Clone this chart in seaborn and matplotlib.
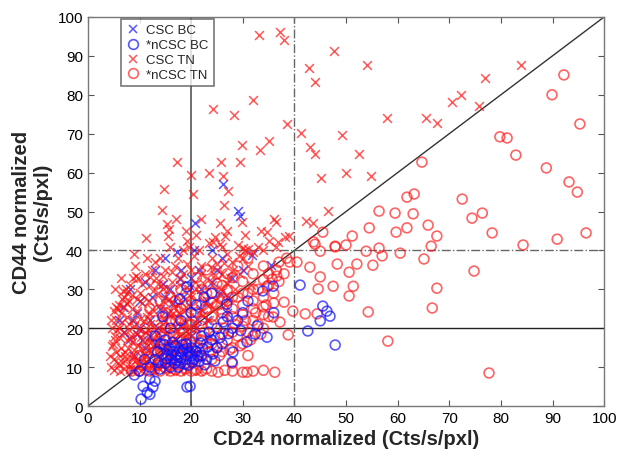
import matplotlib
matplotlib.use("Agg")
import matplotlib.pyplot as plt
import seaborn as sns
from matplotlib.lines import Line2D

# CSC TN (red x)
csc_tn_x = [
    33.1, 37.2, 38.0, 47.7, 42.8, 44.0, 54.1, 83.9, 76.9, 72.3,
    70.5, 75.8, 32.0, 24.2, 28.3, 57.9, 65.5, 67.6, 38.6, 41.3,
    49.2, 35.1, 29.8, 33.3, 43.0, 44.0, 52.5, 17.2, 25.8, 29.5,
    20.0, 23.4, 26.2, 45.2, 50.0, 54.8, 14.7, 20.3, 27.1, 26.4,
    14.3, 46.5, 15.3, 15.7, 36.0, 42.2, 43.6, 29.8, 11.2, 15.5,
    19.2, 24.6, 26.6, 38.2, 36.4, 34.7, 36.8, 39.0, 24.2, 25.6,
    30.0, 31.0,
    4.5, 5.0, 5.5, 4.8, 5.2, 6.0, 5.5, 6.5, 6.0, 7.0,
    6.2, 6.8, 7.2, 6.5, 7.5, 7.0, 8.0, 7.5, 8.5, 8.0,
    8.2, 8.8, 9.0, 8.5, 9.5, 9.0, 10.0, 9.5, 10.5, 10.0,
    10.2, 10.8, 11.2, 10.5, 11.5, 11.0, 12.0, 11.5, 12.5, 12.0,
    5.8, 6.3, 7.8, 8.3, 9.7, 10.5, 11.8, 12.2, 4.6, 5.8,
    7.3, 8.8, 9.2, 6.5, 11.0, 11.5, 9.0, 12.5, 13.0, 5.2,
    12.8, 13.2, 13.8, 13.0, 14.0, 13.5, 14.5, 14.0, 15.0, 14.5,
    15.2, 15.8, 16.2, 15.5, 16.5, 16.0, 17.0, 16.5, 17.5, 17.0,
    17.8, 18.2, 18.8, 18.0, 19.0, 18.5, 19.5, 19.0, 20.0, 19.5,
    13.5, 14.2, 15.5, 16.2, 17.8, 13.2, 15.0, 16.8, 18.5, 14.0,
    20.5, 21.5, 22.5, 21.0, 23.0, 22.0, 24.0, 21.5, 20.5, 19.5,
    23.5, 24.5, 25.5, 24.0, 26.0, 25.0, 27.0, 26.0, 28.0, 27.5,
    28.5, 29.5, 30.0, 31.0, 29.0, 32.0, 33.0, 34.0, 31.5, 26.5,
    17.5, 18.5, 16.0, 20.0, 22.5, 19.0, 21.0, 23.5, 17.0, 22.0,
    27.0, 25.5, 30.5, 33.5, 35.0, 36.5, 6.8, 5.4, 9.7, 21.5,
    4.3, 4.7, 5.3, 5.7, 4.4, 5.1, 6.6, 6.9, 7.6, 8.6,
    6.1, 7.4, 8.1, 9.3, 10.9, 12.3, 13.7, 14.8, 16.4, 17.2,
    7.1, 8.7, 9.8, 10.2, 11.6, 12.8, 13.9, 14.9, 16.8, 17.9,
    6.2, 7.9, 8.9, 9.9, 10.8, 11.9, 12.9, 13.8, 14.8, 15.9,
    6.7, 7.6, 8.2, 9.6, 10.9, 11.8, 12.7, 13.6, 14.6, 15.7,
    16.6, 17.7, 18.7, 19.8, 18.2, 19.3, 17.3, 16.3, 15.3, 14.3,
    5.0, 6.9, 8.9, 11.9, 15.9, 19.2, 20.8, 21.8, 20.6, 21.2,
    9.4, 10.4, 12.0, 14.6, 16.3, 17.9, 19.2, 20.8, 22.0, 23.9,
    22.2, 23.2, 24.8, 25.8, 27.0, 28.2, 26.4, 29.2, 30.4, 24.6,
]
csc_tn_y = [
    95.4, 96.1, 94.1, 91.3, 86.9, 83.3, 87.7, 87.7, 84.3, 80.0,
    78.1, 77.1, 78.7, 76.3, 74.8, 74.0, 74.0, 72.8, 72.5, 70.2,
    69.7, 68.1, 67.1, 65.8, 66.6, 64.8, 64.8, 62.7, 62.7, 62.7,
    59.4, 59.9, 59.1, 58.6, 59.9, 59.1, 55.8, 54.5, 55.3, 51.7,
    50.4, 50.1, 46.8, 45.5, 48.1, 47.6, 47.1, 47.3, 43.2, 43.7,
    42.4, 43.4, 43.7, 43.4, 47.3, 44.7, 42.2, 43.7, 42.2, 41.6,
    40.6, 40.4,
    10.0, 12.0, 14.0, 16.0, 18.0, 20.0, 22.0, 24.0, 26.0, 28.0,
    9.0, 11.0, 13.0, 15.0, 17.0, 19.0, 21.0, 23.0, 25.0, 27.0,
    9.5, 12.0, 14.5, 16.5, 18.5, 20.5, 22.5, 24.5, 26.5, 29.0,
    9.0, 11.0, 13.0, 15.0, 17.0, 19.0, 21.0, 23.0, 25.0, 31.0,
    11.0, 13.0, 15.0, 18.0, 10.5, 12.5, 14.5, 16.5, 20.0, 25.0,
    30.0, 33.0, 36.0, 33.0, 34.0, 38.0, 39.0, 35.0, 37.0, 30.0,
    9.0, 11.0, 13.0, 15.0, 17.0, 19.0, 21.0, 23.0, 25.0, 27.0,
    9.5, 12.0, 14.0, 16.0, 18.0, 20.0, 22.0, 24.0, 26.0, 28.0,
    9.0, 11.0, 13.5, 16.0, 18.0, 20.5, 23.0, 25.5, 28.0, 30.0,
    29.0, 31.0, 30.0, 32.0, 31.0, 33.0, 35.0, 36.0, 34.0, 38.0,
    21.0, 24.0, 27.0, 30.0, 33.0, 36.0, 38.0, 40.0, 38.5, 41.0,
    22.0, 25.0, 28.5, 31.0, 34.0, 36.5, 39.0, 41.0, 37.0, 33.0,
    30.0, 34.0, 38.0, 36.0, 41.5, 39.5, 41.0, 40.0, 31.0, 26.0,
    38.0, 40.0, 41.0, 35.0, 31.5, 45.0, 44.0, 42.0, 48.0, 48.0,
    45.0, 47.0, 44.0, 45.0, 42.5, 41.0, 29.6, 25.4, 32.9, 9.0,
    13.0, 15.5, 17.0, 19.5, 22.0, 24.5, 21.5, 25.5, 26.5, 28.5,
    10.5, 12.0, 10.2, 11.8, 10.0, 10.5, 9.8, 10.6, 10.2, 11.8,
    14.0, 13.5, 15.8, 17.8, 19.5, 17.5, 15.2, 14.0, 13.0, 14.5,
    17.5, 19.5, 22.0, 19.8, 21.8, 23.8, 20.2, 25.8, 22.5, 23.2,
    27.5, 29.0, 31.0, 27.5, 28.0, 27.0, 29.5, 31.5, 30.0, 27.5,
    25.5, 23.8, 22.0, 20.0, 17.5, 14.5, 19.5, 16.8, 18.8, 19.6,
    9.2, 9.5, 9.0, 9.2, 9.1, 9.4, 10.5, 12.5, 14.5, 17.0,
    33.5, 31.5, 33.2, 33.5, 34.5, 33.0, 36.5, 31.8, 34.0, 35.8,
    23.5, 25.8, 27.2, 30.2, 31.5, 35.0, 36.8, 38.5, 40.2, 33.8,
]

# nCSC TN (red circles)
ncsc_tn_x = [
    8.5, 10.0, 12.0, 14.0, 16.0, 18.0, 20.0, 22.0, 24.0, 25.2,
    28.0, 30.0, 30.8, 32.0, 36.2,
    9, 10, 11, 9.5, 12, 13, 12.5, 14, 15, 14.5,
    16, 17, 16.5, 18, 19, 18.5, 20, 21, 20.5, 22,
    23, 22.5, 24, 25, 24.5, 26, 27, 26.5, 28, 29,
    28.5, 30, 31, 30.5, 32, 33, 32.5, 34, 35, 34.5,
    20, 21, 22, 23, 24, 25, 26, 27, 28, 29,
    30, 31, 32, 33, 34, 35, 36, 37, 36.5, 38,
    17, 18, 19, 15, 13, 11, 12, 14, 16, 18,
    20, 22, 24, 26, 28, 30, 32, 34, 29, 31,
    15, 17, 19, 21, 23, 25, 27, 37, 38.5, 35,
    10.5, 11.5, 13.5, 15.5, 17.5, 19.5, 21.5, 23.5, 25.5, 27.5,
    29.5, 31.5, 33.5, 12.5, 14, 16, 18, 20, 22, 24,
    26, 28, 30, 32, 34, 14, 16, 18, 20, 22,
    24, 26, 28, 30, 32, 34, 36, 22, 24, 26,
    28, 30, 32, 34, 27, 25, 23, 21, 19, 17,
    13, 15, 17, 19, 21, 23, 26.5, 34, 28, 31,
    43.7, 45.5, 47.9, 45.0, 44.0, 43.0, 40.5, 39.1, 36.6, 35.7,
    34.7, 45.0, 44.6, 38.0, 39.7, 42.1, 44.4, 35.9, 37.2, 38.8,
    92.2, 89.9, 95.3, 79.8, 81.2, 82.9, 64.7, 88.8, 93.2, 94.8,
    61.8, 63.2, 72.5, 56.4, 59.5, 63.0, 76.4, 74.4, 54.5, 59.7,
    61.8, 65.9, 67.6, 78.3, 51.2, 47.9, 50.0, 53.9, 56.4, 60.5,
    66.5, 84.3, 90.9, 96.5, 57.0, 48.3, 52.1, 55.2, 65.1, 50.6,
    74.8, 47.5, 51.4, 67.6, 50.6, 54.3, 66.7, 58.1, 77.7,
]
ncsc_tn_y = [
    9.0, 9.0, 9.0, 9.0, 9.0, 9.0, 9.0, 9.0, 9.0, 8.7,
    9.0, 8.7, 8.7, 9.0, 8.7,
    11, 13, 15, 17, 12, 14, 18, 11, 13, 16,
    12, 15, 18, 13, 16, 19, 12, 15, 18, 13,
    16, 19, 12, 15, 18, 14, 17, 20, 15, 18,
    21, 16, 19, 22, 18, 21, 24, 20, 23, 26,
    21, 24, 22, 25, 23, 26, 24, 27, 25, 28,
    26, 29, 27, 30, 28, 31, 29, 32, 35, 34,
    22, 25, 23, 20, 22, 20, 25, 27, 28, 30,
    27, 30, 29, 31, 33, 32, 34, 36, 36, 38,
    24, 27, 29, 33, 35, 34, 30, 37, 38, 34,
    10.5, 13.5, 10.5, 11.5, 12.5, 13.5, 13, 14, 13, 14.5,
    15.5, 17, 18.5, 16, 14.5, 15.5, 17, 16.5, 17, 16,
    18.5, 19, 20.5, 22, 23.5, 19, 22, 20, 19.5, 20.5,
    21, 22.5, 23, 23.5, 25, 25.5, 26.5, 26, 26.5, 27.5,
    28, 29, 30, 32.5, 34, 31.5, 29, 28.5, 26, 24.5,
    9.5, 9.8, 9.4, 9.6, 9.3, 9.6, 9.2, 9.2, 11, 13,
    42.2, 44.7, 40.9, 39.8, 41.6, 35.7, 37.0, 37.0, 33.4, 32.6,
    30.8, 33.2, 30.1, 26.7, 24.4, 23.7, 23.7, 22.9, 21.6, 18.3,
    85.1, 80.0, 72.5, 69.2, 68.9, 64.5, 62.7, 61.2, 57.6, 55.0,
    53.7, 54.5, 53.2, 50.1, 49.6, 49.4, 49.6, 48.3, 45.8, 44.7,
    45.8, 46.5, 43.7, 44.5, 43.7, 41.1, 41.4, 39.8, 40.6, 39.3,
    41.1, 41.4, 42.9, 44.5, 38.6, 36.5, 36.5, 36.2, 37.8, 34.4,
    34.7, 30.8, 30.8, 30.3, 28.3, 24.2, 25.2, 16.7, 8.5,
]

# CSC BC (blue x)
csc_bc_x = [
    20.7, 29.1, 29.5, 26.2, 17.2, 31.8, 35.5, 27.1, 6.8, 8.1,
    17.8, 19.8, 21.1, 17.8, 23.6, 8.1, 14.5,
    10, 12, 14, 15, 16, 18, 20, 22, 24, 25,
    12, 11, 9, 13, 20, 21, 19, 16, 17, 22,
    23, 10, 6, 7, 11, 13, 28, 30, 26, 24,
    15, 27, 8.5, 9.5, 10.5, 13.5, 15.5, 16.5, 18.5, 19.5,
    21.5, 23.0, 25.5, 12.5, 9.5, 14.5, 20.5,
]
csc_bc_y = [
    47.1, 50.1, 48.8, 57.1, 39.6, 38.8, 36.2, 28.0, 25.4, 30.1,
    32.6, 25.7, 22.4, 20.6, 18.0, 17.2, 13.9,
    20, 22, 25, 28, 30, 35, 33, 30, 32, 35,
    18, 15, 13, 16, 18, 20, 15, 14, 17, 25,
    27, 27, 22, 19, 32, 35, 33, 35, 38, 40,
    38, 24, 22, 24, 17, 20, 24, 26.5, 28, 31,
    35, 22, 29, 28, 18.5, 31.5, 40,
]

# nCSC BC (blue circles)
ncsc_bc_x = [
    10.3, 12, 12.6, 10.7, 13, 12, 19.2, 19.8, 11.5,
    15, 16, 17, 18, 19, 20, 21, 16.5, 18.5, 20,
    17.5, 19.5, 15.5, 21.5, 22, 17, 19, 16, 18, 20.5,
    12, 13, 14, 13.5, 11, 10, 9, 14, 13, 15,
    23, 24.2, 25, 24, 26, 27.9, 28.1, 23.5, 25, 22,
    26.2, 30.8, 32.4, 34.7, 32.8, 28, 27, 30, 29, 26.9,
    33.9, 35.9, 19.2, 17.8, 20, 21, 18, 16, 14.5, 22.5,
    41.1, 45.5, 46.3, 45, 42.6, 47.9, 46.9, 24, 31, 36,
    15.2, 16.2, 17.2, 18.2, 19.2, 20.2, 21.2, 16.8, 18.8, 19.8,
    15.8, 17.8, 20.8, 22.2, 14.8, 16.4, 18.4, 21.8, 23.2, 13.6,
    22.6, 24.6, 25.6, 27.2, 29.6,
]
ncsc_bc_y = [
    1.8, 3, 4.9, 5.1, 6.4, 7, 4.9, 5.1, 3.5,
    11, 12, 13, 11, 12, 13, 14, 14, 14.5, 15,
    10, 10.5, 13, 11.5, 13, 15.5, 16, 10, 12.5, 12,
    10, 12, 9.5, 14, 12, 9, 8, 16, 18, 17,
    12, 13.4, 15, 17, 16, 11.3, 13.9, 19, 20, 18,
    21.6, 16.5, 18.5, 17.7, 20.6, 20, 23, 24, 22, 26.2,
    29.6, 30.8, 30.6, 27.5, 24, 26, 22, 20, 23, 28,
    31.1, 25.7, 24.4, 21.9, 19.3, 15.7, 23.1, 29, 27, 24,
    12.2, 13.2, 11.8, 13.8, 14.8, 11.2, 12.8, 11, 10.8, 13.8,
    14.8, 14.2, 14.2, 14.8, 15.8, 16.4, 15.8, 16.2, 15.2, 11.2,
    10.6, 11.6, 17.6, 18.6, 19.4,
]

labels = ["CSC BC", "*nCSC BC", "CSC TN", "*nCSC TN"]
red = "#ff1010"
blue = "#1010ff"

sns.set_style("white")
plt.rcParams["font.family"] = ["Liberation Sans", "DejaVu Sans"]

fig = plt.figure(figsize=(6.19, 4.60), dpi=100)
ax = fig.add_axes([0.142, 0.115, 0.834, 0.846])

# reference lines
ax.plot([0, 100], [0, 100], color="#333333", lw=1.0, zorder=1)
ax.axvline(20, color="#555555", lw=1.2, zorder=1)
ax.axhline(20, color="#222222", lw=1.0, zorder=1)
ax.axvline(40, color="#666666", lw=1.0, ls="-.", zorder=1)
ax.axhline(40, color="#666666", lw=1.0, ls="-.", zorder=1)

# blue x under the red, blue circles on top
sns.scatterplot(x=csc_bc_x, y=csc_bc_y, marker="x", color=blue, s=40,
                linewidth=1.1, alpha=0.7, ax=ax, zorder=2)
sns.scatterplot(x=csc_tn_x, y=csc_tn_y, marker="x", color=red, s=40,
                linewidth=1.1, alpha=0.7, ax=ax, zorder=3)
sns.scatterplot(x=ncsc_tn_x, y=ncsc_tn_y, marker="o", facecolors="none",
                edgecolor=red, s=50, linewidth=1.2, alpha=0.65, ax=ax, zorder=3)
sns.scatterplot(x=ncsc_bc_x, y=ncsc_bc_y, marker="o", facecolors="none",
                edgecolor=blue, s=50, linewidth=1.2, alpha=0.7, ax=ax, zorder=4)

ax.set_xlim(0, 100)
ax.set_ylim(0, 100)
ax.set_xticks(range(0, 101, 10))
ax.set_yticks(range(0, 101, 10))
ax.tick_params(direction="in", length=4, width=0.8, colors="#555555",
               labelcolor="black", labelsize=11, top=True, right=True,
               bottom=True, left=True)
for sp in ax.spines.values():
    sp.set_color("#777777")
    sp.set_linewidth(1.0)

ax.set_xlabel("CD24 normalized (Cts/s/pxl)", fontsize=14.5, fontweight="bold",
              labelpad=3)
ax.set_ylabel("CD44 normalized\n(Cts/s/pxl)", fontsize=14.5, fontweight="bold",
              linespacing=1.1)

handles = [
    Line2D([], [], marker="x", ls="", color=blue, alpha=0.7, ms=6, mew=1.1),
    Line2D([], [], marker="o", ls="", mfc="none", mec=blue, alpha=0.7, ms=7, mew=1.2),
    Line2D([], [], marker="x", ls="", color=red, alpha=0.7, ms=6, mew=1.1),
    Line2D([], [], marker="o", ls="", mfc="none", mec=red, alpha=0.65, ms=7, mew=1.2),
]
leg = ax.legend(handles, labels, loc="upper left", bbox_to_anchor=(0.064, 0.995),
                fontsize=9.5, frameon=True, fancybox=False, handlelength=1.0,
                handletextpad=0.5, labelspacing=0.2, borderpad=0.4,
                borderaxespad=0)
leg.get_frame().set_edgecolor("#555555")
leg.get_frame().set_linewidth(1.2)
leg.set_zorder(5)

fig.savefig("out.png", dpi=100)
